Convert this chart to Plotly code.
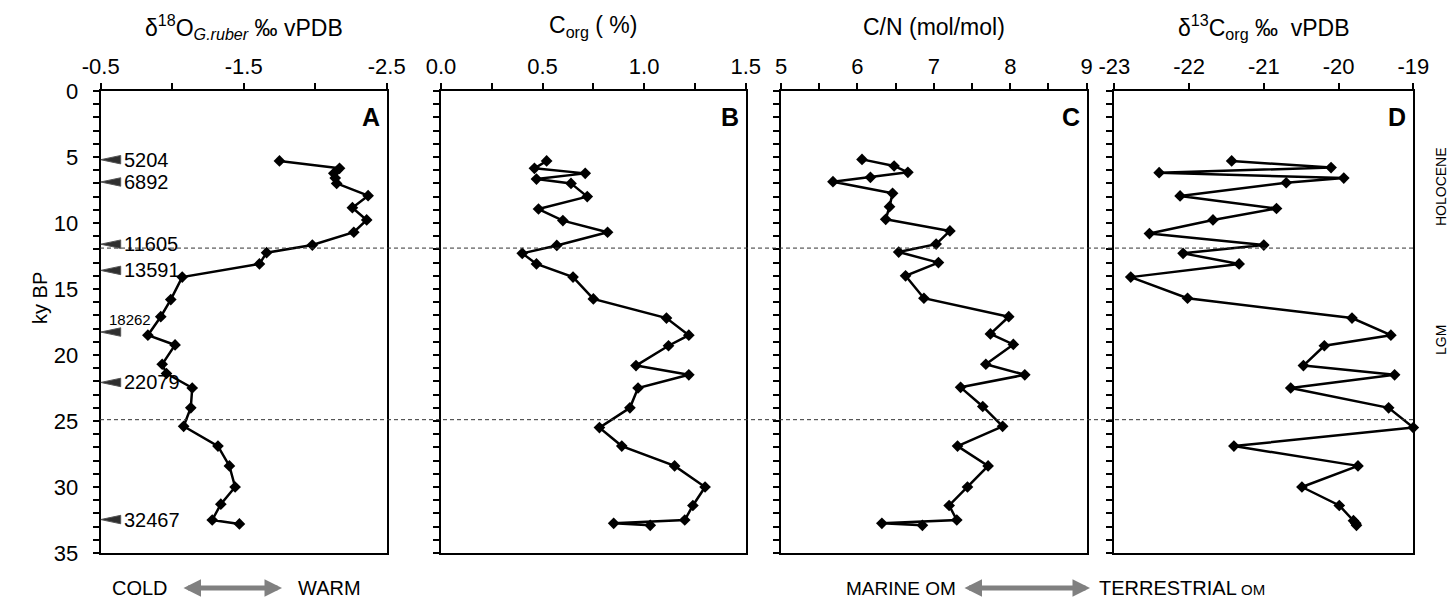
import plotly.graph_objects as go

W, H = 1455, 605

# ---------------- data ----------------
# Panel A: d18O G.ruber (permil vPDB) vs age (ky BP)
a_age = [5.3, 5.86, 6.24, 6.6, 7.0, 7.93, 8.84, 9.77, 10.7, 11.67, 12.25, 13.1, 14.1, 15.8,
         17.1, 18.5, 19.24, 20.7, 21.4, 22.5, 24.0, 25.4, 26.9, 28.4, 30.0, 31.3, 32.5, 32.8]
a_d18o = [-1.75, -2.17, -2.13, -2.14, -2.15, -2.37, -2.26, -2.36, -2.27, -1.98, -1.66, -1.61,
          -1.07, -0.99, -0.92, -0.83, -1.02, -0.93, -0.96, -1.14, -1.13, -1.08, -1.32, -1.40,
          -1.44, -1.34, -1.28, -1.47]

# Panel B: Corg (%)
b_age = [5.3, 5.86, 6.24, 6.67, 7.0, 8.0, 8.94, 9.82, 10.7, 11.7, 12.3, 13.1, 14.1, 15.75,
         17.2, 18.5, 19.3, 20.8, 21.5, 22.5, 24.0, 25.5, 26.9, 28.4, 30.0, 31.4, 32.5, 32.75, 32.9]
b_corg = [0.52, 0.46, 0.71, 0.47, 0.64, 0.72, 0.48, 0.60, 0.82, 0.57, 0.40, 0.47, 0.65, 0.75,
          1.11, 1.22, 1.12, 0.96, 1.22, 0.97, 0.93, 0.78, 0.89, 1.15, 1.30, 1.24, 1.20, 0.85, 1.03]

# Panel C: C/N (mol/mol)
c_age = [5.18, 5.68, 6.16, 6.54, 6.87, 7.75, 8.76, 9.72, 10.6, 11.6, 12.2, 13.0, 14.0, 15.7,
         17.1, 18.4, 19.2, 20.7, 21.5, 22.45, 23.9, 25.4, 26.9, 28.4, 30.0, 31.4, 32.5, 32.75, 32.9]
c_cn = [6.06, 6.48, 6.66, 6.17, 5.68, 6.46, 6.42, 6.37, 7.21, 7.03, 6.54, 7.06, 6.63, 6.87,
        7.98, 7.74, 8.04, 7.68, 8.19, 7.35, 7.64, 7.90, 7.31, 7.71, 7.44, 7.20, 7.30, 6.32, 6.85]

# Panel D: d13Corg (permil vPDB)
d_age = [5.3, 5.8, 6.19, 6.6, 6.95, 7.95, 8.9, 9.77, 10.8, 11.67, 12.3, 13.1, 14.1, 15.7,
         17.2, 18.5, 19.3, 20.8, 21.5, 22.5, 24.0, 25.5, 26.9, 28.4, 30.0, 31.4, 32.55, 32.75, 32.9]
d_d13c = [-21.43, -20.10, -22.40, -19.93, -20.70, -22.12, -20.83, -21.68, -22.53, -21.00,
          -22.08, -21.33, -22.78, -22.02, -19.82, -19.30, -20.19, -20.47, -19.25, -20.64,
          -19.33, -19.00, -21.40, -19.74, -20.49, -19.99, -19.80, -19.77, -19.76]

# Radiocarbon-dated levels (yr BP)
dates = [5204, 6892, 11605, 13591, 18262, 22079, 32467]

# Period boundaries (ky BP)
boundaries = [11.9, 24.9]

# Tick labels
a_ticks = [-0.5, -1.5, -2.5]
a_ticktext = ["-0.5", "-1.5", "-2.5"]
b_ticks = [0.0, 0.5, 1.0, 1.5]
b_ticktext = ["0.0", "0.5", "1.0", "1.5"]
c_ticks = [5, 6, 7, 8, 9]
c_ticktext = ["5", "6", "7", "8", "9"]
d_ticks = [-23, -22, -21, -20, -19]
d_ticktext = ["-23", "-22", "-21", "-20", "-19"]
y_ticks = [0, 5, 10, 15, 20, 25, 30, 35]
y_ticktext = ["0", "5", "10", "15", "20", "25", "30", "35"]

titles = ["δ<sup>18</sup>O<sub><i>G.ruber</i></sub> ‰ vPDB", "C<sub>org</sub> ( %)",
          "C/N (mol/mol)", "δ<sup>13</sup>C<sub>org</sub> ‰  vPDB"]
panel_letters = ["A", "B", "C", "D"]

# ---------------- layout helpers ----------------
def px(x):
    return x / W

def py(y):
    return 1 - y / H

panels_px = [(100.7, 386.7), (441.0, 745.7), (781.0, 1086.7), (1114.3, 1413.3)]
y_top, y_bot = 91.0, 553.0

FONT = "Liberation Sans, Arial, sans-serif"
fig = go.Figure()

series = [(a_d18o, a_age), (b_corg, b_age), (c_cn, c_age), (d_d13c, d_age)]
for i, (xv, yv) in enumerate(series):
    sfx = "" if i == 0 else str(i + 1)
    fig.add_trace(go.Scatter(
        x=xv, y=yv, xaxis="x" + sfx, yaxis="y" + sfx, mode="lines+markers",
        line=dict(color="black", width=2.5),
        marker=dict(symbol="diamond", size=9, color="black"),
        cliponaxis=False, showlegend=False, hoverinfo="skip"))

xranges = [[-0.5, -2.5], [0, 1.5], [5, 9], [-23, -19]]
xtickvals = [a_ticks, b_ticks, c_ticks, d_ticks]
xticktexts = [a_ticktext, b_ticktext, c_ticktext, d_ticktext]
xminor = [0.5, 0.25, 0.5, None]
xtick0 = [-0.5, 0, 5, -23]

layout = dict(width=W, height=H, margin=dict(l=0, r=0, t=0, b=0, pad=0), autosize=False,
              template="none",
              paper_bgcolor="white", plot_bgcolor="white",
              font=dict(family=FONT, color="black", size=20), showlegend=False)

TICKF = 22
for i in range(4):
    sfx = "" if i == 0 else str(i + 1)
    x0, x1 = panels_px[i]
    xa = dict(domain=[px(x0), px(x1)], range=xranges[i], side="top", anchor="y" + sfx,
              automargin=False,
              showline=True, mirror=True, linecolor="black", linewidth=2,
              ticks="outside", ticklen=6, tickwidth=2, tickcolor="black",
              tickmode="array", tickvals=xtickvals[i], ticktext=xticktexts[i],
              showgrid=False, zeroline=False, tickfont=dict(size=TICKF), fixedrange=True)
    if xminor[i]:
        xa["minor"] = dict(dtick=xminor[i], tick0=xtick0[i], ticks="outside", ticklen=6,
                           tickwidth=2, tickcolor="black", showgrid=False)
    ya = dict(domain=[py(y_bot), py(y_top)], range=[35, 0], anchor="x" + sfx,
              automargin=False,
              showline=True, mirror=True, linecolor="black", linewidth=2,
              ticks="outside", ticklen=6, tickwidth=2, tickcolor="black",
              tickmode="array", tickvals=y_ticks, ticktext=y_ticktext,
              showgrid=False, zeroline=False,
              minor=dict(dtick=1, tick0=0, ticks="outside", ticklen=6, tickwidth=2,
                         tickcolor="black", showgrid=False),
              showticklabels=(i == 0), ticklabelstandoff=10,
              tickfont=dict(size=TICKF), fixedrange=True)
    layout["xaxis" + sfx] = xa
    layout["yaxis" + sfx] = ya

fig.update_layout(**layout)

annotations = []
shapes = []
for i in range(4):
    x0, x1 = panels_px[i]
    annotations.append(dict(text=titles[i], xref="paper", yref="paper",
                            x=px((x0 + x1) / 2), y=py(27), xanchor="center", yanchor="middle",
                            showarrow=False, font=dict(size=23)))
    annotations.append(dict(text="<b>" + panel_letters[i] + "</b>", xref="paper", yref="paper",
                            x=px(x1 - 5), y=py(117), xanchor="right", yanchor="middle",
                            showarrow=False, font=dict(size=25)))

# y axis title
annotations.append(dict(text="ky BP", xref="paper", yref="paper", x=px(40), y=py(298),
                        textangle=-90, showarrow=False, font=dict(size=20),
                        xanchor="center", yanchor="middle"))

# boundaries (dashed)
for b in boundaries:
    shapes.append(dict(type="line", xref="paper", yref="y", x0=px(100), x1=px(1416), y0=b, y1=b,
                       line=dict(color="#333333", width=1, dash="4px,3px")))

# dated levels: wedge markers + labels
wedge_len = 20 / 143.0  # in d18O units (panel A x scale)
for d in dates:
    yk = d / 1000.0
    tip = -0.5
    base = tip - wedge_len
    shapes.append(dict(type="path", xref="x", yref="y",
                       path=f"M {tip},{yk} L {base},{yk - 0.32} L {base},{yk + 0.32} Z",
                       fillcolor="#2f2f2f", line=dict(color="#555555", width=1)))
    if d == 18262:
        annotations.append(dict(text=str(d), xref="paper", yref="y", x=px(107), y=yk,
                                yshift=13, xanchor="left", yanchor="middle",
                                showarrow=False, font=dict(size=15)))
    else:
        annotations.append(dict(text=str(d), xref="paper", yref="y", x=px(122), y=yk,
                                xanchor="left", yanchor="middle",
                                showarrow=False, font=dict(size=20)))

# period labels
annotations.append(dict(text="HOLOCENE", xref="paper", yref="paper", x=px(1441), y=py(187),
                        textangle=-90, showarrow=False, font=dict(size=14),
                        xanchor="center", yanchor="middle"))
annotations.append(dict(text="LGM", xref="paper", yref="paper", x=px(1441), y=py(340),
                        textangle=-90, showarrow=False, font=dict(size=14),
                        xanchor="center", yanchor="middle"))

# bottom labels and arrows
yb = py(588)
BF = 19
annotations.append(dict(text="COLD", xref="paper", yref="paper", x=px(140), y=yb,
                        showarrow=False, font=dict(size=BF + 1), xanchor="center", yanchor="middle"))
annotations.append(dict(text="WARM", xref="paper", yref="paper", x=px(329), y=yb,
                        showarrow=False, font=dict(size=BF + 1), xanchor="center", yanchor="middle"))
annotations.append(dict(text="MARINE OM", xref="paper", yref="paper", x=px(901), y=yb,
                        showarrow=False, font=dict(size=BF), xanchor="center", yanchor="middle"))
annotations.append(dict(text="TERRESTRIAL<span style='font-size:15px'> OM</span>",
                        xref="paper", yref="paper", x=px(1097), y=yb,
                        showarrow=False, font=dict(size=BF + 1), xanchor="left", yanchor="middle"))
for (s, e) in [(182, 282), (963, 1090)]:
    annotations.append(dict(text="", xref="paper", yref="paper", x=px(e), y=yb,
                            ax=-(e - s), ay=0, showarrow=True, arrowside="end+start",
                            arrowhead=2, arrowsize=0.7, arrowwidth=5, arrowcolor="#808080"))

fig.update_layout(annotations=annotations, shapes=shapes)
fig.write_html("out.html")
